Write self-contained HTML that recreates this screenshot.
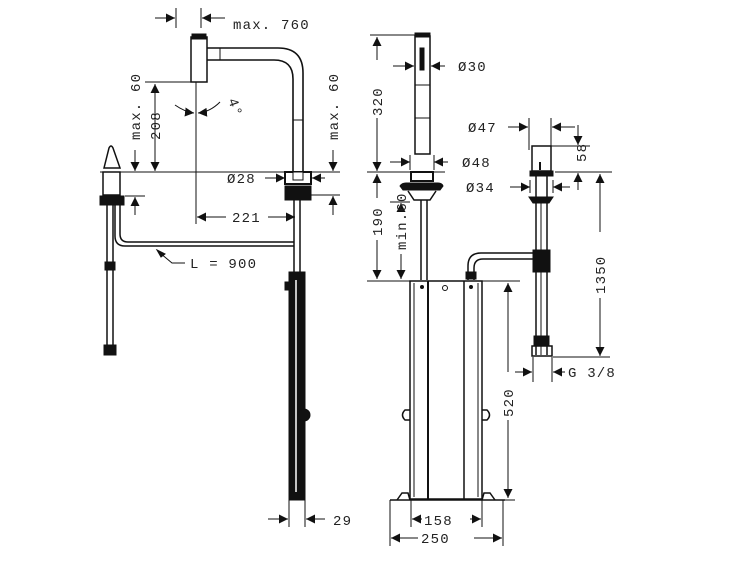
<!DOCTYPE html>
<html><head><meta charset="utf-8"><style>
html,body{margin:0;padding:0;background:#fff}
svg{display:block}
text{font-family:"Liberation Mono","DejaVu Sans Mono",monospace;font-size:14px;fill:#222;letter-spacing:1.2px}
</style></head><body>
<svg width="750" height="563" viewBox="0 0 750 563" xmlns="http://www.w3.org/2000/svg">
<defs>
<marker id="a" viewBox="0 0 10 10" refX="10" refY="5" markerWidth="9" markerHeight="9" orient="auto-start-reverse" markerUnits="userSpaceOnUse"><path d="M0,0L10,5L0,10z" fill="#111"/></marker>
</defs>
<g stroke="#111" stroke-width="1" fill="none">
<!-- ===== LEFT VIEW ===== -->
<line x1="176" y1="8" x2="176" y2="28"/><line x1="201" y1="8" x2="201" y2="28"/>
<line x1="155" y1="18" x2="175" y2="18" marker-end="url(#a)"/>
<line x1="225" y1="18" x2="202" y2="18" marker-end="url(#a)"/>
<rect x="191" y="37" width="16" height="45" stroke-width="1.5"/>
<rect x="192" y="34" width="14" height="5" fill="#111"/>
<path d="M207 48 H278 Q303 48 303 73 V172" stroke-width="1.6"/>
<path d="M207 60 H274 Q293 60 293 79 V172" stroke-width="1.6"/>
<line x1="220" y1="48" x2="220" y2="60"/><line x1="293" y1="120" x2="303" y2="120"/>
<line x1="196" y1="82" x2="196" y2="224"/>
<path d="M175 105 Q185 112 194 113" marker-end="url(#a)"/>
<path d="M220 102 Q210 112 198 113" marker-end="url(#a)"/>
<line x1="145" y1="82" x2="191" y2="82"/>
<line x1="155" y1="84" x2="155" y2="171" marker-start="url(#a)" marker-end="url(#a)"/>
<line x1="135" y1="150" x2="135" y2="171" marker-end="url(#a)"/>
<line x1="100" y1="172" x2="340" y2="172"/>
<line x1="125" y1="196" x2="145" y2="196"/>
<line x1="135" y1="215" x2="135" y2="197" marker-end="url(#a)"/>
<line x1="333" y1="150" x2="333" y2="171" marker-end="url(#a)"/>
<line x1="310" y1="195" x2="340" y2="195"/>
<line x1="333" y1="215" x2="333" y2="196" marker-end="url(#a)"/>
<line x1="265" y1="178" x2="285" y2="178" marker-end="url(#a)"/>
<line x1="325" y1="178" x2="312" y2="178" marker-end="url(#a)"/>
<rect x="285" y="172" width="26" height="12" stroke-width="2"/>
<rect x="293" y="172" width="10" height="8" fill="#fff"/>
<rect x="285" y="186" width="26" height="14" fill="#111"/>
<line x1="197" y1="217" x2="226" y2="217" marker-start="url(#a)"/>
<line x1="268" y1="217" x2="295" y2="217" marker-end="url(#a)"/>
<line x1="294" y1="200" x2="294" y2="272" stroke-width="1.5"/><line x1="300" y1="200" x2="300" y2="272" stroke-width="1.5"/>
<path d="M115 205 V236 Q115 246 125 246 H294" stroke-width="1.5"/>
<path d="M120 205 V234 Q120 242 128 242 H294" stroke-width="1.5"/>
<path d="M104 168 L109 148 Q111 144 113 148 L120 168 Z" stroke-width="1.5"/>
<rect x="103" y="172" width="17" height="23" stroke-width="1.5"/>
<rect x="100" y="196" width="24" height="9" fill="#111"/>
<line x1="107" y1="205" x2="107" y2="350" stroke-width="1.5"/><line x1="113" y1="205" x2="113" y2="350" stroke-width="1.5"/>
<rect x="105" y="262" width="10" height="8" fill="#111"/>
<rect x="104" y="345" width="12" height="10" fill="#111"/>
<path d="M160 253 L172 263 H185"/>
<path d="M157 250 L165 254 L161 257 Z" fill="#111"/>
<rect x="289" y="272" width="16" height="228" fill="#111"/>
<line x1="296" y1="280" x2="296" y2="492" stroke="#fff" stroke-width="1.5"/>
<rect x="285" y="282" width="5" height="8" fill="#111"/>
<circle cx="304" cy="415" r="6" fill="#111"/>
<line x1="289" y1="500" x2="289" y2="527"/><line x1="305" y1="500" x2="305" y2="527"/>
<line x1="268" y1="519" x2="288" y2="519" marker-end="url(#a)"/>
<line x1="325" y1="519" x2="306" y2="519" marker-end="url(#a)"/>

<!-- ===== MIDDLE VIEW ===== -->
<rect x="415" y="36" width="15" height="118" stroke-width="1.5"/>
<rect x="415" y="33" width="15" height="4" fill="#111"/>
<rect x="420" y="48" width="4" height="22" fill="#111"/>
<line x1="415" y1="85" x2="430" y2="85"/><line x1="415" y1="118" x2="430" y2="118"/>
<line x1="370" y1="35" x2="415" y2="35"/>
<line x1="377" y1="37" x2="377" y2="60" marker-start="url(#a)"/>
<line x1="377" y1="118" x2="377" y2="171" marker-end="url(#a)"/>
<line x1="393" y1="66" x2="414" y2="66" marker-end="url(#a)"/>
<line x1="445" y1="66" x2="431" y2="66" marker-end="url(#a)"/>
<line x1="390" y1="162" x2="410" y2="162" marker-end="url(#a)"/>
<line x1="448" y1="162" x2="434" y2="162" marker-end="url(#a)"/>
<line x1="410" y1="155" x2="410" y2="170"/><line x1="434" y1="155" x2="434" y2="170"/>
<line x1="367" y1="172" x2="445" y2="172"/>
<rect x="411" y="172" width="22" height="9" stroke-width="2"/>
<path d="M400 186 Q402 183 406 183 H438 Q442 183 443 186 L440 190 H403 Z" fill="#111"/>
<path d="M408 191 L414 200 H430 L436 191" stroke-width="1.5"/>
<line x1="421" y1="200" x2="421" y2="280" stroke-width="1.5"/><line x1="427" y1="200" x2="427" y2="280" stroke-width="1.5"/>
<line x1="377" y1="174" x2="377" y2="198" marker-start="url(#a)"/>
<line x1="377" y1="240" x2="377" y2="279" marker-end="url(#a)"/>
<line x1="390" y1="202" x2="410" y2="202"/>
<line x1="401" y1="203" x2="401" y2="210" marker-start="url(#a)"/>
<line x1="401" y1="254" x2="401" y2="279" marker-end="url(#a)"/>
<line x1="367" y1="281" x2="520" y2="281"/>
<rect x="410" y="281" width="72" height="218" stroke-width="1.5"/>
<line x1="428" y1="281" x2="428" y2="499" stroke-width="2"/><line x1="414" y1="283" x2="414" y2="497"/>
<line x1="464" y1="281" x2="464" y2="499" stroke-width="1.5"/><line x1="478" y1="283" x2="478" y2="497"/>
<circle cx="445" cy="288" r="2.5"/>
<circle cx="422" cy="287" r="1.5" fill="#111"/><circle cx="471" cy="287" r="1.5" fill="#111"/>
<path d="M410 410 H405 Q400 415 405 420 H410" stroke-width="1.5"/>
<path d="M482 410 H487 Q492 415 487 420 H482" stroke-width="1.5"/>
<path d="M397 500 L402 493 H408 L410 500" stroke-width="1.5"/>
<path d="M482 500 L484 493 H490 L495 500" stroke-width="1.5"/>
<line x1="390" y1="500" x2="505" y2="500" stroke-width="1.5"/>
<path d="M468 280 V266 Q468 253 481 253 H538" stroke-width="1.5"/>
<path d="M474 280 V268 Q474 259 483 259 H538" stroke-width="1.5"/>
<rect x="466" y="272" width="10" height="7" fill="#111"/>
<line x1="485" y1="281" x2="520" y2="281"/>
<line x1="508" y1="283" x2="508" y2="372" marker-start="url(#a)"/>
<line x1="508" y1="420" x2="508" y2="498" marker-end="url(#a)"/>
<line x1="500" y1="500" x2="515" y2="500"/>
<line x1="411" y1="500" x2="411" y2="527"/><line x1="482" y1="500" x2="482" y2="527"/>
<line x1="390" y1="500" x2="390" y2="546"/><line x1="503" y1="500" x2="503" y2="546"/>
<line x1="412" y1="519" x2="422" y2="519" marker-start="url(#a)"/>
<line x1="470" y1="519" x2="481" y2="519" marker-end="url(#a)"/>
<line x1="391" y1="538" x2="418" y2="538" marker-start="url(#a)"/>
<line x1="474" y1="538" x2="502" y2="538" marker-end="url(#a)"/>

<!-- ===== RIGHT VIEW ===== -->
<rect x="532" y="146" width="19" height="25" stroke-width="1.5"/>
<line x1="540" y1="162" x2="540" y2="170" stroke-width="2"/>
<rect x="530" y="171" width="23" height="5" fill="#111"/>
<path d="M529 197 H553 L549 203 H533 Z" fill="#111"/>
<line x1="536" y1="176" x2="536" y2="355" stroke-width="1.5"/><line x1="547" y1="176" x2="547" y2="355" stroke-width="1.5"/>
<line x1="541" y1="203" x2="541" y2="355"/>
<rect x="533" y="250" width="17" height="22" fill="#111"/>
<rect x="534" y="336" width="15" height="10" fill="#111"/>
<rect x="532" y="346" width="20" height="10" stroke-width="1.5"/>
<line x1="529" y1="118" x2="529" y2="150"/><line x1="551" y1="118" x2="551" y2="146"/>
<line x1="508" y1="127" x2="528" y2="127" marker-end="url(#a)"/>
<line x1="575" y1="127" x2="552" y2="127" marker-end="url(#a)"/>
<line x1="551" y1="146" x2="590" y2="146"/>
<line x1="578" y1="125" x2="578" y2="145" marker-end="url(#a)"/>
<line x1="578" y1="190" x2="578" y2="173" marker-end="url(#a)"/>
<line x1="555" y1="172" x2="612" y2="172"/>
<line x1="510" y1="187" x2="530" y2="187" marker-end="url(#a)"/>
<line x1="570" y1="187" x2="553" y2="187" marker-end="url(#a)"/>
<line x1="530" y1="180" x2="530" y2="193"/><line x1="553" y1="180" x2="553" y2="193"/>
<line x1="600" y1="174" x2="600" y2="232" marker-start="url(#a)"/>
<line x1="600" y1="298" x2="600" y2="356" marker-end="url(#a)"/>
<line x1="553" y1="357" x2="610" y2="357"/>
<line x1="533" y1="357" x2="533" y2="382"/><line x1="552" y1="357" x2="552" y2="382"/>
<line x1="515" y1="372" x2="532" y2="372" marker-end="url(#a)"/>
<line x1="565" y1="372" x2="553" y2="372" marker-end="url(#a)"/>
</g>
<text x="233" y="29">max. 760</text>
<text x="228" y="100" transform="rotate(70 228 100)">4°</text>
<text transform="translate(140,140) rotate(-90)">max. 60</text>
<text transform="translate(160,140) rotate(-90)">208</text>
<text transform="translate(338,140) rotate(-90)">max. 60</text>
<text x="227" y="183">Ø28</text>
<text x="232" y="222">221</text>
<text x="190" y="268">L = 900</text>
<text x="333" y="525">29</text>
<text transform="translate(382,116) rotate(-90)">320</text>
<text x="458" y="71">Ø30</text>
<text x="462" y="167">Ø48</text>
<text transform="translate(382,236) rotate(-90)">190</text>
<text transform="translate(406,250) rotate(-90)">min.60</text>
<text transform="translate(513,417) rotate(-90)">520</text>
<text x="424" y="525">158</text>
<text x="421" y="543">250</text>
<text x="468" y="132">Ø47</text>
<text transform="translate(586,162) rotate(-90)">58</text>
<text x="466" y="192">Ø34</text>
<text transform="translate(605,294) rotate(-90)">1350</text>
<text x="568" y="377">G 3/8</text>
</svg>
</body></html>
